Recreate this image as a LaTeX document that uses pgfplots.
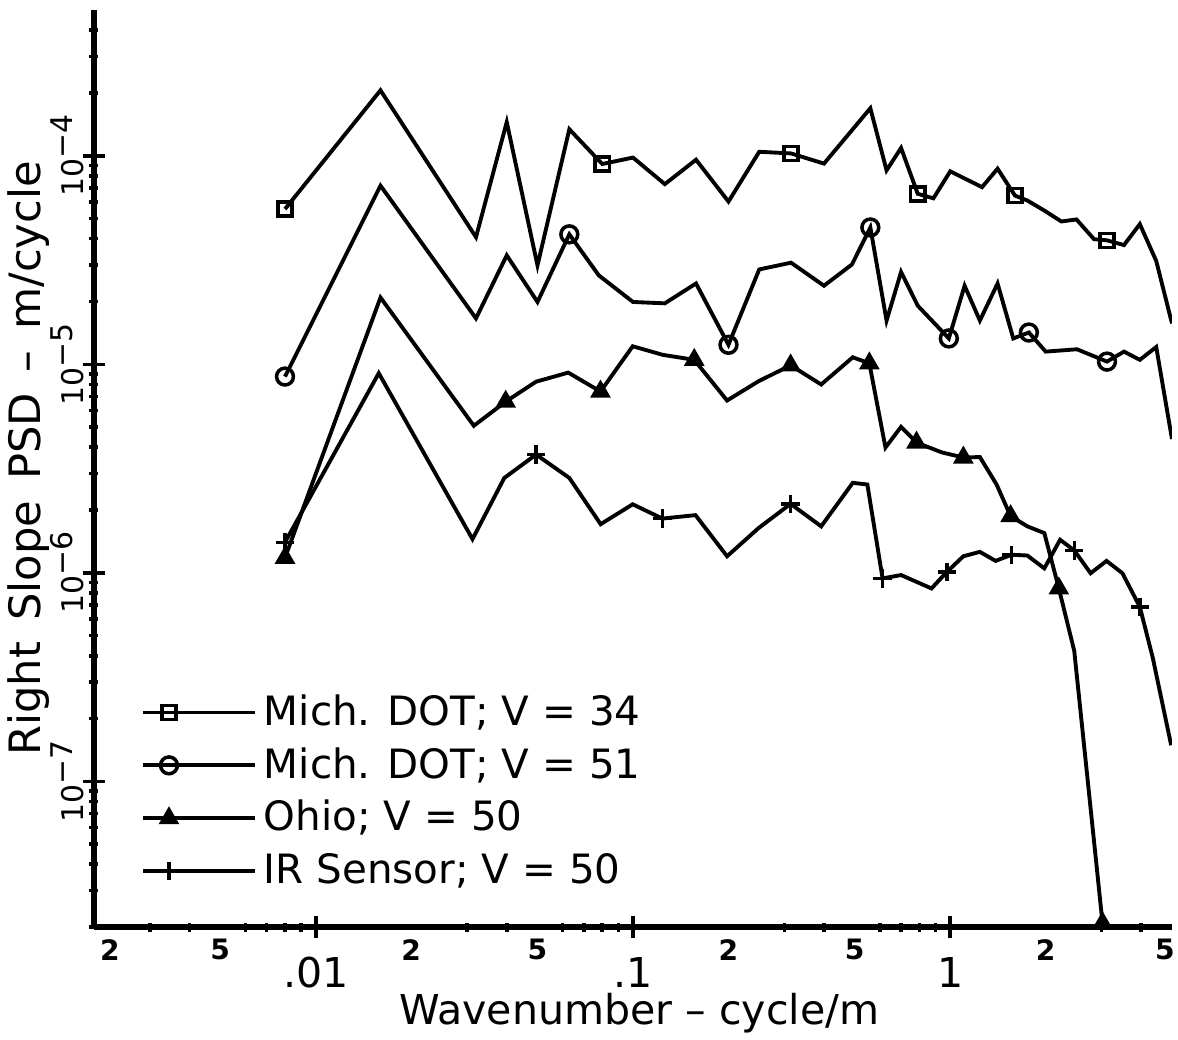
\documentclass[border=0pt]{standalone}
\usepackage{fontspec}
\setmainfont{DejaVu Sans}
\usepackage{pgfplots}
\usepackage{pgfplotstable}
\pgfplotsset{compat=1.18}

\pgfplotstableread{
x y
0.008 5.55e-5
0.016 2.06e-4
0.032 4.07e-5
0.040 1.45e-4
0.050 2.98e-5
0.063 1.34e-4
0.080 9.13e-5
0.100 9.8e-5
0.126 7.31e-5
0.158 9.57e-5
0.200 6.03e-5
0.250 1.045e-4
0.315 1.026e-4
0.400 9.17e-5
0.560 1.69e-4
0.630 8.51e-5
0.700 1.09e-4
0.790 6.57e-5
0.885 6.25e-5
1.00 8.42e-5
1.26 7.07e-5
1.41 8.67e-5
1.60 6.44e-5
1.75 6.1e-5
1.98 5.46e-5
2.24 4.84e-5
2.50 4.95e-5
2.84 3.98e-5
3.12 3.93e-5
3.53 3.73e-5
3.96 4.70e-5
4.46 3.13e-5
5.00 1.57e-5
}\squares

\pgfplotstableread{
x y
0.008 8.73e-6
0.016 7.19e-5
0.032 1.66e-5
0.040 3.33e-5
0.050 1.99e-5
0.063 4.20e-5
0.078 2.67e-5
0.100 1.99e-5
0.126 1.96e-5
0.158 2.44e-5
0.200 1.24e-5
0.250 2.85e-5
0.315 3.07e-5
0.400 2.38e-5
0.490 3.01e-5
0.560 4.53e-5
0.630 1.62e-5
0.700 2.77e-5
0.790 1.91e-5
0.990 1.33e-5
1.11 2.38e-5
1.24 1.62e-5
1.41 2.44e-5
1.58 1.33e-5
1.77 1.42e-5
2.00 1.15e-5
2.51 1.18e-5
3.12 1.03e-5
3.53 1.15e-5
3.96 1.05e-5
4.46 1.21e-5
5.00 4.38e-6
}\circles

\pgfplotstableread{
x y
0.008 1.18e-6
0.016 2.09e-5
0.0315 5.07e-6
0.0397 6.62e-6
0.0495 8.25e-6
0.0625 9.12e-6
0.079 7.40e-6
0.0998 1.22e-5
0.124 1.11e-5
0.156 1.05e-5
0.198 6.70e-6
0.249 8.30e-6
0.314 9.88e-6
0.392 8.00e-6
0.493 1.08e-5
0.556 1.01e-5
0.625 3.99e-6
0.700 5.01e-6
0.783 4.21e-6
0.940 3.78e-6
1.10 3.57e-6
1.24 3.59e-6
1.40 2.65e-6
1.55 1.87e-6
1.75 1.67e-6
1.98 1.55e-6
2.20 8.41e-7
2.46 4.22e-7
3.02 2.09e-8
}\triangles

\pgfplotstableread{
x y
0.008 1.40e-6
0.0158 9.06e-6
0.0312 1.45e-6
0.0393 2.85e-6
0.0495 3.69e-6
0.0630 2.85e-6
0.0791 1.71e-6
0.0998 2.13e-6
0.1238 1.82e-6
0.1574 1.89e-6
0.198 1.20e-6
0.249 1.64e-6
0.314 2.14e-6
0.392 1.67e-6
0.493 2.70e-6
0.548 2.65e-6
0.612 9.40e-7
0.700 9.75e-7
0.873 8.41e-7
0.976 1.01e-6
1.10 1.20e-6
1.24 1.26e-6
1.39 1.14e-6
1.56 1.22e-6
1.75 1.21e-6
1.98 1.05e-6
2.22 1.44e-6
2.46 1.28e-6
2.77 9.95e-7
3.11 1.14e-6
3.49 9.95e-7
3.96 6.86e-7
4.35 3.91e-7
4.97 1.49e-7
}\pluses

\begin{document}
\begin{tikzpicture}
\begin{axis}[
  scale only axis,
  width=10.78cm, height=9.17cm,
  xmode=log, ymode=log,
  xmin=0.002, xmax=5, ymin=2e-8, ymax=5e-4,
  axis x line=bottom, axis y line=left,
  axis line style={line width=1.6pt, -},
  tick align=center,
  major tick length=0.22cm,
  minor tick length=0.09cm,
  every tick/.style={black, line width=1pt},
  xtick={0.01,0.1,1},
  xticklabels={.01,.1,1},
  xticklabel style={font=\fontsize{11.7}{14}\selectfont, yshift=-2pt},
  extra x ticks={0.002,0.005,0.02,0.05,0.2,0.5,2,5},
  extra x tick labels={\hspace*{0.32cm}2,5,2,5,2,5,2,5\hspace*{0.14cm}},
  extra x tick style={major tick length=0pt, xticklabel style={font=\fontsize{8}{10}\selectfont\bfseries, yshift=2pt}},
  minor xtick={0.003,0.004,0.006,0.007,0.008,0.009,0.03,0.04,0.06,0.07,0.08,0.09,0.3,0.4,0.6,0.7,0.8,0.9,3,4},
  ytick={1e-7,1e-6,1e-5,1e-4},
  yticklabels={10\raisebox{0.35em}{−7},10\raisebox{0.35em}{−6},10\raisebox{0.35em}{−5},10\raisebox{0.35em}{−4}},
  yticklabel style={xshift=0.13cm, rotate=90, anchor=south, font=\fontsize{8.5}{10}\selectfont},
  minor ytick={2e-8,3e-8,4e-8,5e-8,6e-8,7e-8,8e-8,9e-8,2e-7,3e-7,4e-7,5e-7,6e-7,7e-7,8e-7,9e-7,2e-6,3e-6,4e-6,5e-6,6e-6,7e-6,8e-6,9e-6,2e-5,3e-5,4e-5,5e-5,6e-5,7e-5,8e-5,9e-5,2e-4,3e-4,4e-4},
  xlabel={Wavenumber -- cycle/m},
  ylabel={Right\hspace{0.21cm}Slope\hspace{0.21cm}PSD\hspace{0.21cm}--\hspace{0.21cm}m/cycle},
  every axis x label/.style={at={(axis description cs:0.506,-0.094)}, anchor=center, font=\fontsize{11.7}{14}\selectfont},
  every axis y label/.style={at={(axis description cs:-0.061,0.511)}, anchor=center, rotate=90, font=\fontsize{12.3}{14}\selectfont},
  every axis plot/.append style={black, line width=1.1pt},
  legend style={at={(axis description cs:0.043,0.262)}, anchor=north west, draw=none, fill=none,
    font=\fontsize{11.5}{14}\selectfont, row sep=0.8pt, inner sep=0pt},
  legend cell align=left,
  legend image code/.code={
    \draw[#1] (0cm,0cm) -- (1.12cm,0cm);
    \draw[#1] plot[only marks] coordinates {(0.26cm,0cm) (0.87cm,0cm)};
  },
]
\addplot[mark=square, mark size=2pt, mark options={line width=1pt}, mark indices={1,7,13,18,23,29}] table {\squares};
\addlegendentry{Mich. DOT; V = 34}
\addplot[mark=o, mark size=2.4pt, mark options={line width=1pt}, mark indices={1,6,11,16,20,25,28}] table {\circles};
\addlegendentry{Mich. DOT; V = 51}
\addplot[mark=triangle*, mark size=2.8pt, mark options={line width=0.6pt}, mark indices={1,4,7,10,13,16,19,21,24,27,29}] table {\triangles};
\addlegendentry{Ohio; V = 50}
\addplot[mark=+, mark size=2.6pt, mark options={line width=1pt}, mark indices={1,5,9,13,17,20,24,28,32}] table {\pluses};
\addlegendentry{IR Sensor; V = 50}
\end{axis}
\pgfresetboundingbox
\path (current axis.south west) ++(-0.94cm,-1.12cm) rectangle ++(11.78cm,10.39cm);
\end{tikzpicture}
\end{document}
